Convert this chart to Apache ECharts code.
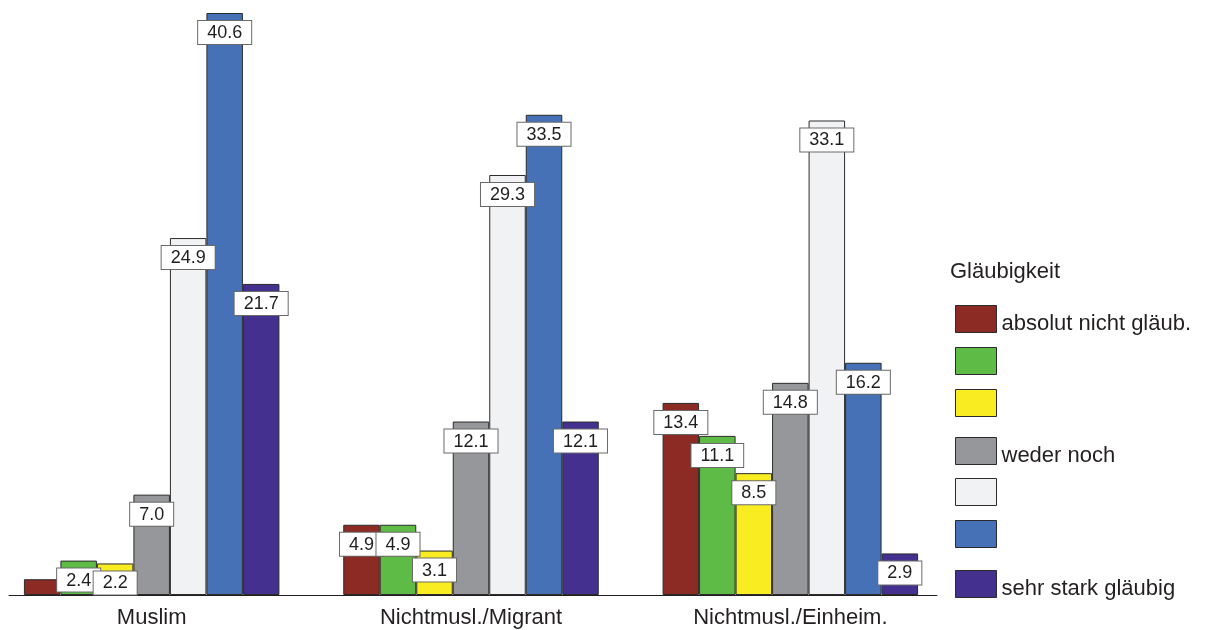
<!DOCTYPE html>
<html>
<head>
<meta charset="utf-8">
<script src="https://cdn.jsdelivr.net/npm/echarts@6/dist/echarts.min.js"></script>
<style>
html,body{margin:0;padding:0;background:#fff;}
#chart{width:1210px;height:630px;}
</style>
</head>
<body>
<div id="chart"></div>
<script>
// ---- data ----
const categories = ['Muslim', 'Nichtmusl./Migrant', 'Nichtmusl./Einheim.'];
const seriesNames = ['absolut nicht gläub.', 'Stufe 2', 'Stufe 3', 'weder noch', 'Stufe 5', 'Stufe 6', 'sehr stark gläubig'];
const legendLabels = ['absolut nicht gläub.', '', '', 'weder noch', '', '', 'sehr stark gläubig'];
const s1 = [1.1, 4.9, 13.4];
const s2 = [2.4, 4.9, 11.1];
const s3 = [2.2, 3.1, 8.5];
const s4 = [7.0, 12.1, 14.8];
const s5 = [24.9, 29.3, 33.1];
const s6 = [40.6, 33.5, 16.2];
const s7 = [21.7, 12.1, 2.9];
const legendTitle = 'Gläubigkeit';

// ---- styles ----
const values = [s1, s2, s3, s4, s5, s6, s7];
const colors = ['#8C2A24', '#5DBB46', '#F9ED21', '#96979A', '#F1F2F4', '#4671B7', '#44318F'];
const legendTops = [305, 347, 389, 437, 478, 520, 570];
const FONT = '"Liberation Sans", Arial, sans-serif';

const chart = echarts.init(document.getElementById('chart'));

const series = values.map((vals, i) => ({
  name: seriesNames[i],
  type: 'bar',
  xAxisIndex: 0,
  yAxisIndex: 0,
  barWidth: 36.5,
  barGap: '0%',
  data: vals.map(v => ({
    value: v,
    label: { show: v >= 1.5 }
  })),
  itemStyle: { color: colors[i], borderColor: '#2b2b2b', borderWidth: 1 },
  label: {
    show: true,
    position: 'insideTop',
    distance: 8,
    formatter: p => p.value.toFixed(1),
    fontFamily: FONT,
    fontSize: 18,
    color: '#1e1e1e',
    backgroundColor: '#ffffff',
    borderColor: '#6a6a6a',
    borderWidth: 1,
    padding: [3, 9, 2, 9]
  }
}));

const legends = seriesNames.map((n, i) => ({
  data: [n],
  left: 955,
  top: legendTops[i],
  orient: 'vertical',
  padding: 0,
  itemWidth: 41,
  itemHeight: 27,
  itemGap: 4,
  icon: 'rect',
  selectedMode: false,
  itemStyle: { borderColor: '#2b2b2b', borderWidth: 1 },
  formatter: name => {
    const t = legendLabels[seriesNames.indexOf(name)];
    return t ? '{t|' + t + '}' : '';
  },
  textStyle: {
    fontFamily: FONT, fontSize: 22, color: '#231f20',
    rich: { t: { fontFamily: FONT, fontSize: 22, color: '#231f20', padding: [10, 0, 0, 0] } }
  }
}));

chart.setOption({
  animation: false,
  backgroundColor: '#ffffff',
  title: {
    text: legendTitle,
    left: 950,
    top: 261,
    padding: 0,
    textStyle: { fontFamily: FONT, fontSize: 22, fontWeight: 'normal', color: '#231f20' }
  },
  legend: legends,
  grid: [
    { left: -8, right: 260, top: 13, bottom: 35, containLabel: false, outerBoundsMode: 'none' },
    { left: 9, right: 273, top: 13, bottom: 35, containLabel: false, outerBoundsMode: 'none' }
  ],
  xAxis: [
    {
      type: 'category',
      gridIndex: 0,
      data: categories,
      axisLine: { show: false },
      axisTick: { show: false },
      axisLabel: { fontFamily: FONT, fontSize: 22, color: '#231f20', margin: 12 }
    },
    {
      type: 'category',
      gridIndex: 1,
      data: categories,
      axisLine: { show: true, lineStyle: { color: '#231f20', width: 1 } },
      axisTick: { show: false },
      axisLabel: { show: false }
    }
  ],
  yAxis: [
    { type: 'value', gridIndex: 0, min: 0, max: 'dataMax', show: false, splitLine: { show: false } },
    { type: 'value', gridIndex: 1, min: 0, max: 1, show: false, splitLine: { show: false } }
  ],
  series: series
});
</script>
</body>
</html>
